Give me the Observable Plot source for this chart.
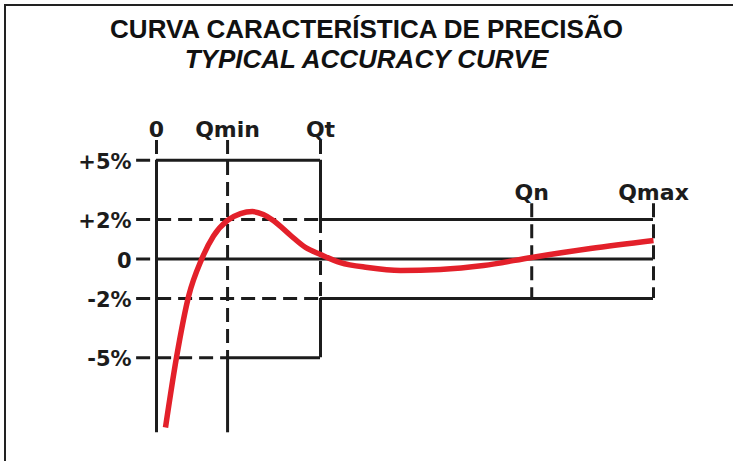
<!DOCTYPE html>
<html><head><meta charset="utf-8">
<script src="https://cdn.jsdelivr.net/npm/d3@7"></script>
<script src="https://cdn.jsdelivr.net/npm/@observablehq/plot@0.6"></script>
<style>
body{margin:0;background:#fff;}
#wrap{position:relative;width:733px;height:461px;overflow:hidden;background:#fff;}
#frame{position:absolute;left:4px;top:4px;right:-10px;bottom:-10px;border-top:2px solid #222;border-left:2px solid #222;pointer-events:none;}
.t{position:absolute;left:0;width:733px;text-align:center;font-family:"Liberation Sans",Arial,sans-serif;font-weight:bold;font-size:26px;color:#111;line-height:1;white-space:nowrap;}
</style></head><body>
<div id="wrap">
<div id="chart"></div>
<div class="t" style="top:16px">CURVA CARACTERÍSTICA DE PRECISÃO</div>
<div class="t" style="top:46px;font-style:italic">TYPICAL ACCURACY CURVE</div>
<div id="frame"></div>
</div>
<script>
// Flow axis markers (relative flow, 0..100 = 0..Qmax)
const xLabels = ["0", "Qmin", "Qt", "Qn", "Qmax"];
const xPos = [0, 14.3, 33, 75.5, 100];
// Error levels (%)
const yLabels = ["+5%", "+2%", "0", "-2%", "-5%"];
const yLevels = [5, 2, 0, -2, -5];
// Typical accuracy curve: relative flow vs error (%)
const flow  = [1.81, 4.02, 6.5, 9.05, 11.47, 14.29, 16.9, 19.3, 21.5, 23.5, 27, 30, 33, 37, 42.5, 49.1, 57.1, 65.8, 75.5, 87.3, 100];
const error = [-8.53, -4.99, -1.85, -0.03, 1.16, 1.95, 2.3, 2.4, 2.25, 1.95, 1.19, 0.58, 0.23, -0.18, -0.43, -0.58, -0.53, -0.33, 0.08, 0.53, 0.94];

// layout extents (in data units)
const tickStart = -4, axisTop = 6, axisBottom = -8.8, upperTop = 2.8;

const X = Object.fromEntries(xLabels.map((l, i) => [l, xPos[i]]));
const Y = Object.fromEntries(yLabels.map((l, i) => [l, yLevels[i]]));

const hSeg = [
  {y: Y["+5%"], x1: tickStart, x2: X["0"], dash: true},
  {y: Y["+5%"], x1: X["0"], x2: X["Qt"], dash: false},
  {y: Y["+2%"], x1: tickStart, x2: X["Qt"], dash: true},
  {y: Y["+2%"], x1: X["Qt"], x2: X["Qmax"], dash: false},
  {y: Y["0"], x1: tickStart, x2: X["0"], dash: true},
  {y: Y["0"], x1: X["0"], x2: X["Qmax"], dash: false},
  {y: Y["-2%"], x1: tickStart, x2: X["Qt"], dash: true},
  {y: Y["-2%"], x1: X["Qt"], x2: X["Qmax"], dash: false},
  {y: Y["-5%"], x1: tickStart, x2: X["Qmin"], dash: true},
  {y: Y["-5%"], x1: X["Qmin"], x2: X["Qt"], dash: false}
];
const vSeg = [
  {x: X["0"], y1: axisTop, y2: Y["+5%"], dash: true},
  {x: X["0"], y1: Y["+5%"], y2: axisBottom, dash: false},
  {x: X["Qmin"], y1: axisTop, y2: Y["-5%"], dash: true},
  {x: X["Qmin"], y1: Y["-5%"], y2: axisBottom, dash: false},
  {x: X["Qt"], y1: axisTop, y2: Y["+5%"], dash: true},
  {x: X["Qt"], y1: Y["+5%"], y2: Y["+2%"], dash: false},
  {x: X["Qt"], y1: Y["+2%"], y2: Y["-2%"], dash: true},
  {x: X["Qt"], y1: Y["-2%"], y2: Y["-5%"], dash: false},
  {x: X["Qn"], y1: upperTop, y2: Y["-2%"], dash: true},
  {x: X["Qmax"], y1: upperTop, y2: Y["-2%"], dash: true}
];
const curve = flow.map((f, i) => ({flow: f, error: error[i]}));
const xLab = xLabels.map((l, i) => ({label: l, x: xPos[i], top: i < 3 ? axisTop : upperTop}));
const yLab = yLabels.map((l, i) => ({label: l, y: yLevels[i]}));

const ink = "#1c1c1c";
const lineStyle = {stroke: ink, strokeWidth: 3, strokeLinecap: "butt"};
const font = {fontFamily: "DejaVu Sans", fontWeight: "bold", fill: ink};

const chart = Plot.plot({
  width: 733, height: 461,
  marginLeft: 156, marginRight: 80, marginTop: 61, marginBottom: 5,
  x: {domain: [0, 100], axis: null},
  y: {domain: [-10, 10], axis: null},
  style: {background: "transparent", overflow: "visible"},
  marks: [
    Plot.ruleY(hSeg.filter(d => !d.dash), {y: "y", x1: "x1", x2: "x2", ...lineStyle}),
    Plot.ruleY(hSeg.filter(d => d.dash), {y: "y", x1: "x1", x2: "x2", ...lineStyle, strokeDasharray: "14,7"}),
    Plot.ruleX(vSeg.filter(d => !d.dash), {x: "x", y1: "y1", y2: "y2", ...lineStyle}),
    Plot.ruleX(vSeg.filter(d => d.dash), {x: "x", y1: "y1", y2: "y2", ...lineStyle, strokeDasharray: "14,7"}),
    Plot.line(curve, {x: "flow", y: "error", stroke: "#e3202a", strokeWidth: 5.5, curve: "monotone-x", strokeLinecap: "butt"}),
    Plot.text(xLab, {x: "x", y: "top", text: "label", textAnchor: "middle", lineAnchor: "bottom", dy: -4, fontSize: 22, ...font}),
    Plot.text(yLab, {x: () => tickStart, y: "y", text: "label", textAnchor: "end", lineAnchor: "middle", dx: -5, dy: 2, fontSize: 21, ...font})
  ]
});
document.getElementById("chart").appendChild(chart);
</script>
</body></html>
